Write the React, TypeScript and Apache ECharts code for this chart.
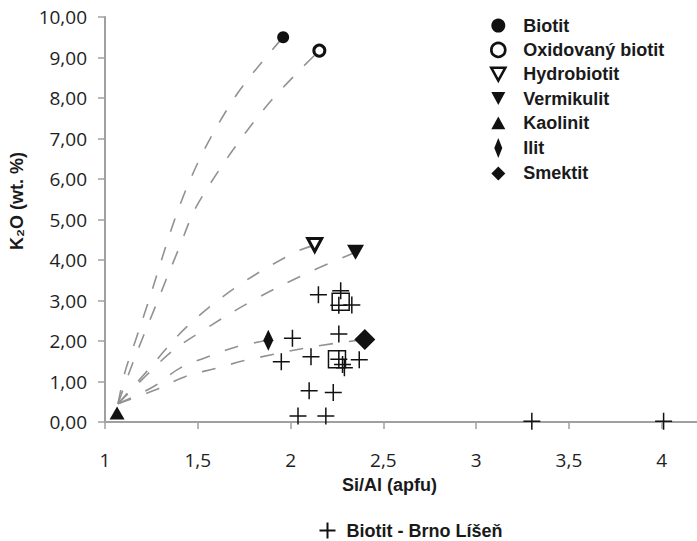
import React, { useEffect, useRef } from "react";
import * as echarts from "echarts";

// ---- data ----
const biotit = [[1.96, 9.5]];
const oxidovanyBiotit = [[2.155, 9.17]];
const hydrobiotit = [[2.13, 4.37]];
const vermikulit = [[2.35, 4.19]];
const kaolinit = [[1.065, 0.22]];
const ilit = [[1.88, 2.02]];
const smektit = [[2.4, 2.04]];
const brnoLisen = [
  [2.15, 3.14], [2.27, 3.24], [2.26, 2.88], [2.33, 2.89], [2.26, 2.17],
  [2.01, 2.07], [1.95, 1.49], [2.11, 1.61], [2.26, 1.55], [2.37, 1.54],
  [2.28, 1.42], [2.29, 1.34], [2.1, 0.77], [2.23, 0.73], [2.04, 0.15],
  [2.19, 0.15], [3.3, 0.02], [4.01, 0.02],
];
const squares = [[2.27, 2.97], [2.25, 1.55]];

// dashed trend curves
const trendBiotit = [[1.07, 0.45], [1.108, 1.24], [1.162, 1.98], [1.216, 2.72], [1.442, 5.8], [1.69, 7.95], [1.96, 9.5]];
const trendOxid = [[1.07, 0.45], [1.135, 1.28], [1.198, 2.02], [1.26, 2.72], [1.395, 4.25], [1.512, 5.48], [1.852, 7.7], [2.155, 9.17]];
const trendHydro = [[1.07, 0.45], [1.216, 1.2], [1.44, 2.35], [1.71, 3.34], [2.015, 4.17], [2.13, 4.37]];
const trendVerm = [[1.07, 0.45], [1.225, 1.16], [1.36, 1.74], [1.503, 2.19], [1.8, 3.01], [2.105, 3.71], [2.35, 4.19]];
const trendIlit = [[1.07, 0.45], [1.26, 0.87], [1.404, 1.33], [1.566, 1.63], [1.71, 1.86], [1.88, 2.02]];
const trendSmektit = [[1.07, 0.45], [1.27, 0.79], [1.431, 1.12], [1.602, 1.33], [1.764, 1.53], [2.123, 1.86], [2.4, 2.04]];

const legendNames = ["Biotit", "Oxidovaný biotit", "Hydrobiotit", "Vermikulit", "Kaolinit", "Ilit", "Smektit"];
const brnoName = "Biotit - Brno Líšeň";
const xAxisName = "Si/Al (apfu)";
const yAxisName = "K₂O (wt. %)";

const DOWN_TRI = "path://M0,0L12,0L6,11Z";
const UP_TRI = "path://M6,0L12,11L0,11Z";
const THIN_DIAMOND = "path://M4,0L8,10L4,20L0,10Z";
const DIAMOND = "path://M10,0L20,10L10,20L0,10Z";
const PLUS = "path://M0,5L10,5M5,0L5,10";

export default function App() {
  const ref = useRef<HTMLDivElement>(null);
  useEffect(() => {
    if (!ref.current) return;
    const chart = echarts.init(ref.current, null, { renderer: "svg" });
    const black = "#111";
    const trend = (data: number[][]) => ({
      type: "line",
      data,
      smooth: 0.35,
      showSymbol: false,
      symbol: "none",
      silent: true,
      z: 1,
      lineStyle: { color: "#929292", width: 1.6, type: [14, 16] },
    });
    const boldText = {
      fontFamily: "Liberation Sans, Arial, sans-serif",
      fontWeight: "bold",
      fontSize: 18,
      color: "#1a1a1a",
    };
    const solid = { color: black, opacity: 1, borderWidth: 0 };
    const hollow = { color: "#fff", opacity: 1, borderColor: black, borderWidth: 3 };
    const stroke = { color: "none", opacity: 1, borderColor: black, borderWidth: 1.5 };
    chart.setOption({
      animation: false,
      backgroundColor: "#fff",
      grid: { left: 105, right: 0, top: 17, bottom: 119, containLabel: false },
      xAxis: {
        type: "value",
        min: 1,
        max: 4.19,
        interval: 0.5,
        name: xAxisName,
        nameLocation: "middle",
        nameGap: 54,
        nameTextStyle: { ...boldText, padding: [0, 23, 0, 0] },
        axisLine: { show: true, lineStyle: { color: "#a0a0a0", width: 2 } },
        axisTick: { show: true, length: 7, lineStyle: { color: "#a0a0a0", width: 1.5 } },
        splitLine: { show: false },
        axisLabel: {
          margin: 28,
          fontFamily: "Open Sans, sans-serif",
          fontSize: 19,
          color: "#1e1e1e",
          showMaxLabel: false,
          formatter: (v: number) =>
            Math.abs(v * 2 - Math.round(v * 2)) < 1e-6 ? String(v).replace(".", ",") : "",
        },
      },
      yAxis: {
        type: "value",
        min: 0,
        max: 10,
        interval: 1,
        name: yAxisName,
        nameLocation: "middle",
        nameGap: 79,
        nameRotate: 90,
        nameTextStyle: { ...boldText, padding: [0, 0, 0, 37] },
        axisLine: { show: true, lineStyle: { color: "#a0a0a0", width: 2 } },
        axisTick: { show: true, length: 7, lineStyle: { color: "#a0a0a0", width: 1.5 } },
        splitLine: { show: false },
        axisLabel: {
          margin: 18,
          fontFamily: "Open Sans, sans-serif",
          fontSize: 19,
          color: "#1e1e1e",
          formatter: (v: number) => v.toFixed(2).replace(".", ","),
        },
      },
      legend: [
        {
          orient: "vertical",
          left: 490,
          top: 16.6,
          padding: 0,
          itemWidth: 14,
          itemHeight: 20,
          itemGap: 6.3,
          symbolKeepAspect: true,
          textStyle: { ...boldText, padding: [0, 0, 0, 13] },
          data: [
            { name: legendNames[0], icon: "circle", itemStyle: solid },
            { name: legendNames[1], icon: "circle", itemStyle: { ...hollow, borderWidth: 2.6 } },
            { name: legendNames[2], icon: DOWN_TRI, itemStyle: { ...hollow, borderWidth: 2.6 } },
            { name: legendNames[3], icon: DOWN_TRI, itemStyle: solid },
            { name: legendNames[4], icon: UP_TRI, itemStyle: solid },
            { name: legendNames[5], icon: THIN_DIAMOND, itemStyle: solid },
            { name: legendNames[6], icon: DIAMOND, itemStyle: solid },
          ],
        },
        {
          orient: "horizontal",
          left: 317,
          top: 520,
          padding: 0,
          itemWidth: 16,
          itemHeight: 16,
          textStyle: { ...boldText, padding: [0, 0, 0, 6] },
          data: [{ name: brnoName, icon: PLUS, itemStyle: { ...stroke, borderWidth: 2 } }],
        },
      ],
      series: [
        trend(trendBiotit),
        trend(trendOxid),
        trend(trendHydro),
        trend(trendVerm),
        trend(trendIlit),
        trend(trendSmektit),
        { name: brnoName, type: "scatter", data: brnoLisen, symbol: PLUS, symbolSize: 17, z: 3, itemStyle: stroke },
        { name: "průměr", type: "scatter", data: squares, symbol: "rect", symbolSize: 17, z: 3, itemStyle: stroke },
        { name: legendNames[0], type: "scatter", data: biotit, symbol: "circle", symbolSize: 12, z: 4, itemStyle: solid },
        { name: legendNames[1], type: "scatter", data: oxidovanyBiotit, symbol: "circle", symbolSize: 11, z: 4, itemStyle: hollow },
        { name: legendNames[2], type: "scatter", data: hydrobiotit, symbol: DOWN_TRI, symbolSize: [14, 13], z: 4, itemStyle: hollow },
        { name: legendNames[3], type: "scatter", data: vermikulit, symbol: DOWN_TRI, symbolSize: [17, 15], z: 4, itemStyle: solid },
        { name: legendNames[4], type: "scatter", data: kaolinit, symbol: UP_TRI, symbolSize: [15, 13], z: 4, itemStyle: solid },
        { name: legendNames[5], type: "scatter", data: ilit, symbol: THIN_DIAMOND, symbolSize: [10, 21], z: 4, itemStyle: solid },
        { name: legendNames[6], type: "scatter", data: smektit, symbol: DIAMOND, symbolSize: [21, 21], z: 4, itemStyle: solid },
      ],
    });
    return () => chart.dispose();
  }, []);
  return (
    <div
      ref={ref}
      style={{ position: "fixed", left: 0, top: 0, width: 697, height: 541, background: "#fff" }}
    />
  );
}
